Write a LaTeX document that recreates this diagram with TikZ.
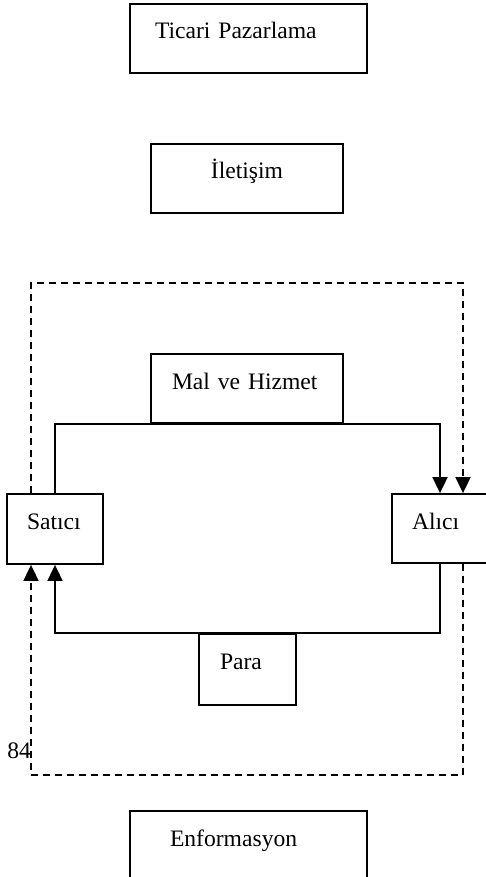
\documentclass[tikz,border=0pt]{standalone}
\usepackage{fontspec}
\setmainfont{Liberation Serif}
\usetikzlibrary{arrows.meta}
\begin{document}
\begin{tikzpicture}[x=0.5pt,y=-0.5pt,>={Triangle[length=8pt,width=7.5pt]}]
			\useasboundingbox (0,0) rectangle (486,877);
			\tikzstyle{box} = [draw, line width=0.9pt, rectangle, inner ysep=0pt, text height=17.5pt, align=left, font=\fontsize{11.8}{14}\selectfont]
			\tikzstyle{flow} = [line width=0.9pt]
			\tikzstyle{info} = [line width=0.9pt, dash pattern=on 3.5pt off 2.5pt]
			\node [box, inner xsep=12.5pt, text width=93.5pt, text depth=17pt] (tp) at (248.5,38.5) {Ticari Pazarlama};
			\node [box, inner xsep=18pt, text width=60pt, text depth=17pt, align=center] (il) at (247,178.5) {İletişim};
			\node [box, inner xsep=10.5pt, text width=75pt, text depth=17pt] (mh) at (247,388.5) {Mal ve Hizmet};
			\node [box, inner xsep=10pt, text width=28pt, text depth=17.5pt] (sa) at (55,529) {Satıcı};
			\node [box, inner xsep=10pt, text width=28pt, text depth=17pt] (al) at (440,528.5) {Alıcı};
			\node [box, inner xsep=10.5pt, text width=27.5pt, text depth=18pt] (pa) at (247.5,669.5) {Para};
			\node [box, inner xsep=20pt, text width=78.5pt, text depth=17pt] (en) at (248.5,845.5) {Enformasyon};
			\node [anchor=base west, inner sep=0pt, font=\fontsize{11.8}{14}\selectfont] (pg) at (7,758) {84};
			
			% corners of the dashed loop
			\coordinate (tl) at (31,283);
			\coordinate (tr) at (463,283);
			\coordinate (bl) at (31,775);
			\coordinate (br) at (463,775);
			
			\draw [flow,->] (sa.north) |- (mh.south) -| (al.north);
			\draw [flow,->] (al.south) |- (pa.north) -| (sa.south);
			
			\draw [info,->] (sa.north -| tl) -- (tl) -- (tr) -- (al.north -| tr);
			\draw [info,->] (al.south -| br) -- (br) -- (bl) -- (sa.south -| bl);
			
		\end{tikzpicture}
\end{document}
